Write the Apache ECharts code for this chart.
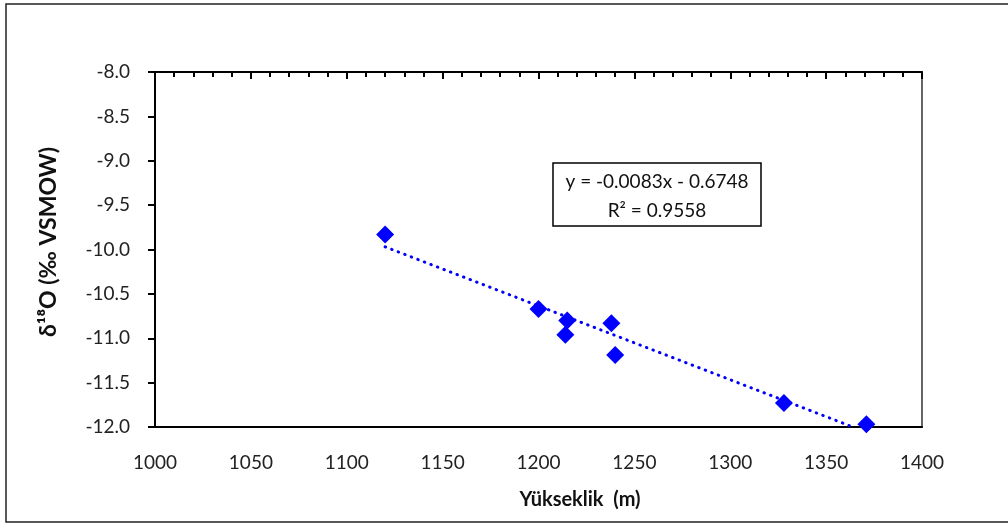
<!DOCTYPE html>
<html>
<head>
<meta charset="utf-8">
<script src="https://cdn.jsdelivr.net/npm/echarts@6/dist/echarts.min.js"></script>
<style>
  html, body { margin: 0; padding: 0; background: #fff; }
  #chart { width: 1008px; height: 523px; }
</style>
</head>
<body>
<div id="chart"></div>
<script>
// elevation (m) and d18O (permil VSMOW)
const elevation = [1120, 1200, 1215, 1214, 1238, 1240, 1328, 1371];
const delta18O = [-9.83, -10.67, -10.80, -10.96, -10.83, -11.19, -11.73, -11.97];

// trend line ends, as drawn (clipped at the bottom of the plot)
const trendX = [1120, 1364];
const trendY = [-9.97, -12.0];

const equationLines = ['y = -0.0083x - 0.6748', 'R² = 0.9558'];

const FONT = 'Lato, "Open Sans", sans-serif';

const points = elevation.map((x, i) => [x, delta18O[i]]);
const trend = trendX.map((x, i) => [x, trendY[i]]);

const chart = echarts.init(document.getElementById('chart'));

chart.setOption({
  animation: false,
  backgroundColor: '#fff',
  grid: { left: 155, top: 72, width: 767, height: 355 },
  xAxis: [
    {
      type: 'value',
      position: 'bottom',
      min: 1000,
      max: 1400,
      interval: 50,
      axisLine: { show: true, lineStyle: { color: '#000', width: 2 } },
      axisTick: { show: false },
      splitLine: { show: false },
      axisLabel: {
        color: '#222', fontSize: 19, fontFamily: FONT, margin: 26,
        formatter: v => String(v)
      }
    },
    {
      type: 'value',
      position: 'top',
      min: 1000,
      max: 1400,
      interval: 50,
      axisLine: { show: true, lineStyle: { color: '#000', width: 2 } },
      axisTick: { show: true, inside: true, length: 7, lineStyle: { color: '#000', width: 2 } },
      minorTick: { show: true, splitNumber: 5, length: 5, lineStyle: { color: '#000', width: 2 } },
      splitLine: { show: false },
      axisLabel: { show: false }
    }
  ],
  yAxis: [
    {
      type: 'value',
      position: 'left',
      min: -12,
      max: -8,
      interval: 0.5,
      axisLine: { show: true, lineStyle: { color: '#000', width: 2 } },
      axisTick: { show: true, inside: false, length: 7, lineStyle: { color: '#000', width: 2 } },
      splitLine: { show: false },
      axisLabel: {
        color: '#222', fontSize: 19, fontFamily: FONT, margin: 25,
        formatter: v => v.toFixed(1)
      }
    },
    {
      type: 'value',
      position: 'right',
      min: -12,
      max: -8,
      interval: 0.5,
      axisLine: { show: true, lineStyle: { color: '#666', width: 2 } },
      axisTick: { show: false },
      splitLine: { show: false },
      axisLabel: { show: false }
    }
  ],
  series: [
    {
      type: 'line',
      data: trend,
      symbol: 'none',
      silent: true,
      clip: true,
      lineStyle: { color: '#0000ff', width: 3, type: [0.5, 6.5], cap: 'round' },
      z: 2
    },
    {
      type: 'scatter',
      data: points,
      symbol: 'diamond',
      symbolSize: 18,
      itemStyle: { color: '#0000ff', opacity: 1 },
      z: 3
    }
  ],
  graphic: [
    {
      type: 'rect',
      shape: { x: 6, y: 4, width: 1010, height: 518 },
      style: { fill: 'none', stroke: '#222', lineWidth: 1.5 },
      silent: true
    },
    {
      type: 'rect',
      shape: { x: 553, y: 163, width: 208, height: 63 },
      style: { fill: '#fff', stroke: '#000', lineWidth: 1.5 },
      z: 10
    },
    {
      type: 'text',
      x: 657, y: 182, z: 11,
      style: {
        text: equationLines[0], fill: '#111', fontSize: 19, fontFamily: FONT,
        align: 'center', verticalAlign: 'middle'
      }
    },
    {
      type: 'text',
      x: 657, y: 211, z: 11,
      style: {
        text: equationLines[1], fill: '#111', fontSize: 19, fontFamily: FONT,
        align: 'center', verticalAlign: 'middle'
      }
    },
    {
      type: 'text',
      x: 580, y: 500, z: 11,
      style: {
        text: 'Yükseklik  (m)', fill: '#111', fontSize: 20, fontWeight: 'bold', fontFamily: FONT,
        align: 'center', verticalAlign: 'middle'
      }
    },
    {
      type: 'text',
      x: 49, y: 242, rotation: Math.PI / 2, z: 11,
      style: {
        text: 'δ¹⁸O (‰ VSMOW)', fill: '#111', fontSize: 23, fontWeight: 'bold', fontFamily: FONT,
        align: 'center', verticalAlign: 'middle'
      }
    }
  ]
});
</script>
</body>
</html>
